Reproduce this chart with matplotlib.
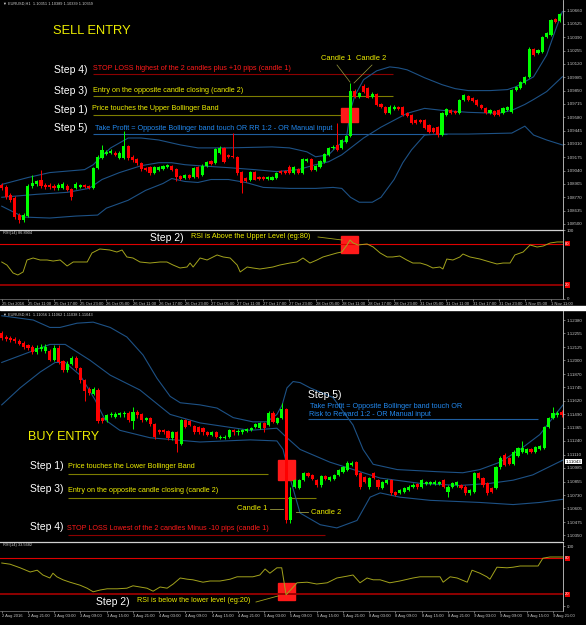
import matplotlib.pyplot as plt
from matplotlib.patches import Rectangle
from matplotlib.lines import Line2D
import matplotlib.transforms as mtransforms

plt.rcParams['font.family'] = ['Liberation Sans', 'DejaVu Sans']

W, H = 586, 625

# ---------------- SELL chart (EURUSD H1, prices in pips above 1.08500) ----------------
sell_base = 1.08500
sell_open = [39, 37, 29, 26, 9, 4, 8, 38, 40, 44, 39, 39, 38, 36, 36, 38, 35, 36, 37, 39,
             38, 36, 57, 67, 71, 72, 72, 67, 67, 79, 68, 66, 62, 57, 58, 52, 55, 56, 58, 59,
             56, 49, 47, 50, 48, 58, 50, 59, 64, 62, 72, 77, 70, 69, 68, 53, 47, 44, 53, 48,
             48, 46, 45, 47, 54, 54, 58, 52, 56, 52, 64, 66, 55, 58, 63, 70, 77, 80, 77, 83,
             89, 135, 129, 140, 138, 129, 132, 121, 118, 112, 116, 118, 118, 112, 110, 105, 105, 105, 100, 97,
             98, 90, 110, 115, 114, 112, 125, 130, 128, 125, 120, 117, 112, 114, 115, 112, 115, 113, 136, 138,
             143, 149, 177, 173, 174, 189, 191, 207, 205]
sell_high = [41, 39, 31, 28, 11, 11, 40, 50, 45, 55, 41, 41, 40, 41, 42, 40, 36, 42, 40, 40,
             39, 58, 70, 80, 75, 76, 74, 74, 94, 80, 70, 67, 63, 58, 59, 59, 59, 60, 61, 60,
             57, 50, 51, 51, 58, 59, 61, 64, 65, 77, 79, 78, 71, 92, 69, 54, 48, 54, 54, 49,
             49, 49, 49, 53, 55, 55, 60, 59, 57, 67, 67, 67, 60, 65, 72, 78, 80, 102, 86, 90,
             143, 137, 134, 142, 139, 134, 133, 122, 119, 120, 120, 119, 119, 113, 111, 106, 106, 106, 101, 98,
             99, 113, 117, 116, 115, 126, 132, 131, 129, 126, 121, 118, 116, 115, 116, 118, 119, 137, 140, 145,
             150, 179, 178, 177, 190, 194, 207, 208, 214]
sell_low = [34, 25, 22, 5, 1, 2, 7, 36, 38, 36, 35, 35, 34, 34, 35, 33, 24, 35, 36, 36,
            35, 35, 56, 66, 70, 71, 69, 66, 66, 65, 63, 60, 54, 54, 50, 51, 54, 55, 57, 54,
            43, 45, 46, 46, 47, 47, 49, 58, 60, 61, 71, 62, 67, 67, 50, 31, 42, 43, 44, 45,
            45, 45, 44, 46, 51, 51, 51, 51, 51, 51, 63, 54, 54, 57, 62, 69, 76, 74, 76, 82,
            88, 128, 128, 133, 127, 128, 119, 117, 111, 111, 115, 115, 109, 108, 101, 101, 102, 96, 92, 92,
            88, 89, 109, 111, 111, 111, 124, 124, 123, 119, 116, 111, 111, 109, 109, 111, 114, 112, 135, 137,
            142, 148, 170, 172, 173, 188, 190, 203, 204]
sell_close = [36, 27, 24, 7, 4, 9, 38, 41, 43, 38, 37, 37, 36, 39, 40, 34, 27, 40, 39, 37,
              36, 57, 68, 75, 73, 74, 70, 72, 79, 67, 65, 62, 56, 55, 52, 58, 58, 59, 60, 55,
              48, 46, 50, 47, 57, 48, 59, 63, 61, 76, 77, 63, 68, 68, 52, 41, 43, 53, 45, 46,
              46, 48, 48, 52, 52, 52, 52, 58, 52, 66, 66, 55, 59, 64, 71, 77, 78, 75, 85, 89,
              135, 129, 133, 134, 128, 132, 120, 118, 112, 118, 118, 116, 110, 109, 102, 102, 103, 97, 93, 93,
              90, 112, 116, 112, 112, 125, 131, 125, 124, 120, 117, 112, 115, 110, 110, 117, 118, 136, 139, 144,
              149, 177, 171, 176, 189, 193, 206, 204, 213]

# Bollinger bands read at sample bars (bar index, pips)
sell_up_x = [0, 6, 11, 19, 21, 23, 25, 29, 32, 36, 41, 45, 52, 62, 66, 70, 72, 75, 77, 79,
             80, 81, 83, 86, 89, 91, 93, 95, 97, 101, 104, 107, 112, 116, 118, 120, 122, 125, 127, 128.6]
sell_up = [40, 47, 52, 55, 60, 69, 77, 87, 87, 85, 80, 77, 77, 78, 77, 73, 68, 70, 79, 85,
           115, 130, 146, 155, 159, 158, 156, 152, 148, 141, 137, 135, 135, 136, 139, 144, 149, 171, 196, 215]
sell_mid_x = [0, 8, 15, 20, 23, 27, 32, 36, 39, 42, 45, 52, 58, 63, 68, 72, 75, 78, 83, 87,
              90, 93, 97, 101, 107, 114, 117, 120, 122, 125, 128.6]
sell_mid = [27, 30, 32, 36, 45, 52, 59, 62, 62, 60, 59, 57, 55, 53, 55, 60, 63, 70, 87, 98,
            105, 112, 117, 115, 113, 112, 115, 121, 126, 134, 149]
sell_lo_x = [0, 5, 11, 17, 22, 24, 29, 33, 37, 39, 42, 45, 48, 52, 56, 60, 66, 72, 76, 78,
             80, 82, 85, 87, 90, 92, 94, 97, 100, 107, 117, 120, 122, 125, 128.6]
sell_lo = [18, 7, 6, 8, 9, 16, 24, 34, 41, 46, 43, 42, 45, 45, 42, 37, 36, 36, 37, 36,
           27, 22, 22, 27, 45, 62, 75, 90, 91, 91, 92, 99, 90, 85, 80]

# RSI(14) read at sample bars
sell_rsi_x = [0, 1.2, 2.6, 3.7, 4.9, 5.8, 7.2, 8.8, 10.4, 11.8, 13.4, 15, 16.4, 19.6, 20.7, 22.5, 24.8, 26.4, 27.6, 28.7,
              30.1, 31.7, 34, 36.3, 37.9, 39.3, 40.9, 42.5, 43.2, 43.9, 45.5, 47.1, 49.4, 50.8, 52.4, 54, 54.7, 56.3, 57.6, 59.2,
              60.8, 62.2, 63.8, 66.1, 67.7, 69.1, 70.7, 72.3, 73.7, 75.3, 76.9, 78, 79.2, 79.9, 80.6, 81.7, 83.8, 85.2, 86.8, 88.4,
              89.7, 91.3, 92.9, 94.3, 96, 97.5, 98.9, 100.5, 101.2, 102.1, 103.5, 105.1, 105.8, 107.4, 109.7, 112, 113.6, 115, 116.6, 117.7,
              119.6, 121.2, 122.8, 124.2, 125.8, 127.4, 128.7]
sell_rsi = [53.5, 49, 37.5, 34.6, 39, 56.4, 59.3, 56.4, 56.4, 54.9, 56.4, 47.7, 53.5, 53.5, 66.6, 72.4, 70.9, 68, 70.9, 60.8,
            59.3, 53.5, 52, 53.5, 53.5, 49.1, 44.8, 46.2, 52, 46.2, 59.3, 56.4, 63.7, 60.8, 59.3, 49.1, 39, 46.2, 44.8, 43.3,
            44.8, 46.2, 49.1, 52, 53.5, 59.3, 52, 56.4, 60.8, 63.7, 66.6, 68, 78.2, 85.5, 81.1, 78.2, 79.7, 75.3, 66.6, 60.8,
            60.8, 62.2, 56.4, 52, 52, 49.1, 44.8, 46.2, 43.3, 57.8, 56.4, 60.8, 65.1, 60.8, 57.8, 53.5, 50.6, 52, 52, 63.7,
            68, 78.2, 75.3, 76.7, 81.1, 82.6, 82.6]

sell_ticks = [1.10660, 1.10525, 1.10390, 1.10255, 1.10120, 1.09985, 1.09850, 1.09715, 1.09580,
              1.09445, 1.09310, 1.09175, 1.09040, 1.08905, 1.08770, 1.08635, 1.08500]
sell_times = ['25 Oct 2016', '25 Oct 11:00', '25 Oct 17:00', '25 Oct 23:00', '26 Oct 05:00', '26 Oct 11:00',
              '26 Oct 17:00', '26 Oct 23:00', '27 Oct 05:00', '27 Oct 11:00', '27 Oct 17:00', '27 Oct 23:00',
              '28 Oct 05:00', '28 Oct 11:00', '28 Oct 17:00', '28 Oct 23:00', '31 Oct 05:00', '31 Oct 11:00',
              '31 Oct 17:00', '31 Oct 23:00', '1 Nov 05:00', '1 Nov 11:00']

# ---------------- BUY chart (EURUSD H1, prices in pips above 1.10350) ----------------
buy_base = 1.10350
buy_open = [191, 187, 186, 185, 183, 181, 179, 178, 173, 176, 174, 174, 165, 177, 164, 156, 162, 167, 158, 146,
            138, 133, 137, 111, 109, 113, 112, 113, 114, 115, 108, 116, 114, 109, 111, 105, 99, 99, 98, 92,
            97, 86, 109, 108, 103, 102, 101, 97, 95, 97, 92, 92, 93, 99, 97, 97, 98, 99, 102, 101,
            106, 104, 115, 106, 111, 119, 14, 46, 45, 52, 59, 57, 52, 47, 56, 52, 53, 57, 60, 62,
            66, 69, 59, 55, 46, 59, 52, 45, 49, 52, 41, 40, 41, 43, 46, 48, 46, 48, 48, 48,
            48, 52, 41, 46, 47, 47, 46, 40, 41, 59, 54, 49, 45, 45, 64, 76, 73, 67, 75, 79,
            78, 81, 79, 81, 82, 102, 111, 113, 116]
buy_high = [193, 189, 188, 187, 185, 183, 180, 179, 179, 180, 180, 176, 179, 179, 165, 164, 169, 169, 159, 147,
            140, 140, 139, 112, 114, 116, 116, 116, 117, 117, 121, 118, 115, 112, 112, 106, 100, 100, 99, 98,
            98, 110, 110, 109, 104, 103, 102, 98, 98, 98, 95, 95, 100, 100, 100, 100, 101, 102, 106, 107,
            107, 117, 117, 112, 125, 120, 46, 53, 53, 60, 60, 58, 53, 57, 57, 56, 58, 63, 65, 70,
            70, 70, 60, 56, 55, 60, 53, 51, 53, 53, 42, 44, 46, 47, 49, 49, 53, 51, 51, 52,
            51, 53, 47, 50, 51, 48, 47, 44, 60, 60, 55, 50, 46, 65, 75, 78, 74, 80, 83, 89,
            82, 82, 84, 85, 103, 112, 121, 117, 118]
buy_low = [184, 183, 182, 181, 179, 176, 175, 171, 171, 174, 172, 164, 164, 162, 154, 154, 161, 156, 144, 127,
           132, 132, 106, 106, 107, 112, 111, 112, 112, 107, 100, 111, 107, 108, 103, 91, 96, 96, 90, 90,
           79, 85, 101, 103, 96, 96, 95, 94, 94, 92, 91, 91, 92, 95, 95, 96, 97, 98, 101, 100,
           97, 103, 106, 105, 110, 12, 12, 45, 44, 51, 55, 52, 46, 46, 52, 51, 52, 56, 59, 61,
           65, 56, 44, 49, 44, 53, 44, 44, 48, 38, 37, 39, 40, 42, 45, 44, 45, 47, 47, 47,
           47, 45, 36, 45, 46, 44, 38, 38, 40, 53, 46, 38, 40, 44, 63, 65, 66, 66, 74, 78,
           77, 78, 78, 80, 81, 101, 110, 112, 112]
buy_close = [186, 185, 184, 183, 180, 178, 177, 173, 177, 178, 178, 165, 177, 163, 156, 162, 167, 158, 146, 136,
             134, 138, 108, 108, 113, 114, 114, 115, 115, 109, 116, 113, 109, 111, 105, 93, 97, 97, 92, 97,
             86, 109, 102, 104, 97, 97, 97, 95, 97, 93, 93, 93, 99, 97, 98, 99, 100, 101, 105, 106,
             101, 115, 107, 111, 119, 14, 36, 52, 52, 59, 56, 53, 47, 56, 53, 55, 57, 62, 64, 68,
             68, 57, 46, 50, 54, 54, 46, 50, 52, 40, 38, 43, 45, 46, 47, 46, 52, 50, 50, 50,
             50, 46, 46, 49, 50, 45, 40, 43, 59, 54, 47, 40, 41, 64, 73, 66, 67, 79, 82, 82,
             81, 79, 83, 84, 102, 111, 115, 115, 113]

buy_up_x = [0, 7.2, 11, 13.3, 17.2, 20.9, 24.8, 28.6, 32.3, 35.5, 38.5, 40.8, 45.3, 49.2, 52.9, 57.4, 60.6, 62.9, 64.1, 65.2,
            66.6, 68.2, 70.5, 75.7, 80.3, 82.6, 84.9, 90.4, 99.5, 105.4, 109.3, 113.9, 118.5, 123, 126, 128.3]
buy_up = [207, 203, 196, 196, 200, 201, 196, 187, 170, 148, 131, 125, 123, 120, 111, 107, 107, 114, 123, 139,
          145, 144, 139, 130, 104, 81, 67, 62, 60, 59, 62, 69, 81, 95, 111, 123]
buy_mid_x = [0, 6.5, 11, 14.5, 20.2, 24.8, 31.6, 38.5, 45.3, 56.8, 62.9, 65.2, 68.2, 75, 81.9, 86.5, 95.6, 104.7, 111.6, 116.9,
             121.4, 128.3]
buy_mid = [163, 173, 180, 180, 165, 151, 137, 114, 106, 99, 101, 92, 81, 69, 60, 54, 49, 47, 49, 52,
           57, 71]
buy_lo_x = [0, 4.2, 8.8, 12.2, 14.5, 17.9, 21.3, 23.6, 27, 33.9, 45.3, 56.8, 62.9, 64.3, 65.9, 68.2, 72.8, 76.6, 81.2, 84.2,
            86.5, 91, 97.9, 109.3, 116.9, 123, 128.3]
buy_lo = [123, 139, 154, 163, 163, 151, 128, 109, 99, 92, 88, 90, 89, 81, 54, 21, 10, 7, 14, 36,
          40, 36, 33, 31, 29, 31, 34]

buy_rsi_x = [0, 1.9, 4.2, 6.5, 8.1, 9.4, 11, 11.7, 12.6, 14, 15.6, 17.9, 19.5, 20.9, 22.5, 24.1, 26.4, 28.6, 30, 31.6,
             33.2, 34.6, 36.2, 37.8, 39.2, 40.8, 42.4, 43.7, 46, 47.6, 49.9, 52.2, 53.8, 55.2, 57.4, 59, 60.2, 61.3, 62.9, 64,
             65, 66.4, 67.5, 69.8, 72, 74.4, 76.6, 78.9, 80.3, 81.9, 83.5, 84.9, 86.5, 88.7, 91, 94, 95.6, 97.9, 100.2, 100.9,
             102.5, 104.1, 106.4, 107.5, 109.3, 110.9, 111.6, 113.2, 115.5, 116.9, 118.5, 120.7, 122.6, 123.7, 125.3, 128.3]
buy_rsi = [72, 70, 64, 57, 60, 52, 47, 55, 49, 44, 40, 35, 30, 24, 27, 29, 29, 30, 34, 32,
           30, 25, 32, 30, 37, 47, 45, 44, 40, 42, 42, 45, 49, 49, 49, 52, 62, 55, 64, 64,
           19, 30, 39, 40, 37, 39, 47, 50, 52, 39, 47, 44, 44, 39, 42, 47, 49, 49, 49, 40,
           49, 47, 40, 60, 55, 49, 45, 65, 64, 65, 67, 67, 67, 80, 82, 82]

buy_ticks = [1.12380, 1.12255, 1.12125, 1.12000, 1.11870, 1.11745, 1.11620, 1.11490, 1.11365,
             1.11240, 1.11110, 1.10985, 1.10855, 1.10730, 1.10605, 1.10475, 1.10350]
buy_times = ['2 Aug 2016', '2 Aug 21:00', '3 Aug 03:00', '3 Aug 09:00', '3 Aug 15:00', '3 Aug 21:00',
             '4 Aug 03:00', '4 Aug 09:00', '4 Aug 15:00', '4 Aug 21:00', '5 Aug 03:00', '5 Aug 09:00',
             '5 Aug 15:00', '5 Aug 21:00', '8 Aug 03:00', '8 Aug 09:00', '8 Aug 15:00', '8 Aug 21:00',
             '9 Aug 03:00', '9 Aug 09:00', '9 Aug 15:00', '9 Aug 21:00']

BULL = '#00ff00'
BEAR = '#ff0000'
BAND = '#1d5185'
RSI_COL = '#a3a31c'
YEL = '#eeee00'
OLIVE = '#7d7d00'
DRED = '#8c0000'
TPBLUE = '#1f5d9e'
TXTBLUE = '#2288ee'
AXCOL = '#c8c8c8'


def px(lst, base):
    return [base + v / 10000 for v in lst]


fig = plt.figure(figsize=(W / 100, H / 100), dpi=100, facecolor='black')


def add_ax(x0, y0, x1, y1):
    ax = fig.add_axes([x0 / W, 1 - y1 / H, (x1 - x0) / W, (y1 - y0) / H])
    ax.set_facecolor('black')
    for s in ax.spines.values():
        s.set_visible(False)
    ax.spines['right'].set_visible(True)
    ax.spines['right'].set_color(AXCOL)
    ax.spines['right'].set_linewidth(0.6)
    return ax


def ftext(x, y, s, color='white', size=7.5, **kw):
    fig.text(x / W, 1 - y / H, s, color=color, fontsize=size, ha='left', va='center', **kw)


def fline(x0, y0, x1, y1, color, lw=0.7):
    fig.add_artist(Line2D([x0 / W, x1 / W], [1 - y0 / H, 1 - y1 / H], color=color, lw=lw))


def candles(ax, o, h, l, c):
    idx = list(range(len(o)))
    cols = [BULL if ci >= oi else BEAR for oi, ci in zip(o, c)]
    ax.vlines(idx, l, h, colors=cols, linewidth=0.7, zorder=3)
    bottoms = [min(a, b) for a, b in zip(o, c)]
    heights = [max(abs(b - a), 0.00008) for a, b in zip(o, c)]
    ax.bar(idx, heights, bottom=bottoms, width=0.72, color=cols, linewidth=0, zorder=4)


def price_axis(ax, ticks):
    ax.yaxis.tick_right()
    ax.set_yticks(ticks)
    ax.set_yticklabels(['%.5f' % t for t in ticks])
    ax.tick_params(axis='y', labelsize=3.2, colors=AXCOL, length=1.5, width=0.4, pad=1.2)
    ax.set_xticks([])


def rsi_axis(ax, times, xmax, ylo, yhi):
    ax.set_xlim(-0.4, xmax)
    ax.set_ylim(ylo, yhi)
    ax.axhline(80, color='#dd0000', lw=0.8)
    ax.axhline(20, color='#990000', lw=1.3)
    ax.spines['top'].set_visible(True)
    ax.spines['top'].set_color('#d0d0d0')
    ax.spines['top'].set_linewidth(0.9)
    ax.spines['bottom'].set_visible(True)
    ax.spines['bottom'].set_color('#808080')
    ax.spines['bottom'].set_linewidth(0.5)
    ax.yaxis.tick_right()
    ax.set_yticks([0, 100])
    ax.set_yticklabels(['0', '100'])
    ax.tick_params(axis='y', labelsize=3.2, colors=AXCOL, length=1.5, width=0.4, pad=1.2)
    ax.set_xticks(range(0, 6 * len(times), 6))
    ax.set_xticklabels(times)
    ax.tick_params(axis='x', labelsize=3, colors=AXCOL, length=1.5, width=0.4, pad=0.8)
    for lab in ax.get_xticklabels():
        lab.set_ha('left')
    tr = mtransforms.blended_transform_factory(ax.transAxes, ax.transData)
    for lvl in (80, 20):
        ax.text(1.004, lvl, str(lvl), transform=tr, fontsize=3, color='white', va='center', ha='left',
                bbox=dict(boxstyle='square,pad=0.15', fc='#ee0000', ec='none'))


# ================= SELL window =================
ax1 = add_ax(0, 0, 563, 229)
candles(ax1, px(sell_open, sell_base), px(sell_high, sell_base), px(sell_low, sell_base), px(sell_close, sell_base))
ax1.plot(sell_up_x, px(sell_up, sell_base), color=BAND, lw=0.8, zorder=2)
ax1.plot(sell_mid_x, px(sell_mid, sell_base), color=BAND, lw=0.8, zorder=2)
ax1.plot(sell_lo_x, px(sell_lo, sell_base), color=BAND, lw=0.8, zorder=2)
ax1.set_xlim(-0.4, 128.75)
ax1.set_ylim(1.08449, 1.10767)
price_axis(ax1, sell_ticks)

# annotation levels
ax1.hlines(1.10018, 20.9, 89.7, color=DRED, lw=0.8, zorder=1)
ax1.hlines(1.09795, 20.9, 89.7, color=OLIVE, lw=0.8, zorder=1)
ax1.hlines(1.09603, 20.9, 77.8, color=OLIVE, lw=0.8, zorder=1)
ax1.hlines(1.09411, 20.9, 102.1, color=TPBLUE, lw=0.8, zorder=1)
ax1.add_patch(Rectangle((77.8, 1.09532), 3.9, 0.00143, color='#ff1a1a', zorder=2.5))

ax2 = add_ax(0, 230, 563, 299)
ax2.plot(sell_rsi_x, sell_rsi, color=RSI_COL, lw=0.7, zorder=3)
ax2.add_patch(Rectangle((77.8, 66.6), 3.9, 24.7, color='#ff1a1a', zorder=2))
rsi_axis(ax2, sell_times, 128.75, -0.3, 100)

ftext(3, 4, '\u25bc EURUSD,H1  1.10351 1.10389 1.10339 1.10359', '#cfcfcf', 2.8)
ftext(53, 31, 'SELL ENTRY', YEL, 9.3)
ftext(54, 70, 'Step 4)')
ftext(93, 69, 'STOP LOSS highest of the 2 candles plus +10 pips (candle 1)', '#ff1a1a', 5.2)
ftext(54, 91, 'Step 3)')
ftext(93, 90, 'Entry on the opposite candle closing (candle 2)', YEL, 5.2)
ftext(54, 110, 'Step 1)')
ftext(92, 109, 'Price touches the Upper Bollinger Band', YEL, 5.2)
ftext(54, 128, 'Step 5)')
ftext(95, 128, 'Take Profit = Opposite Bollinger band touch OR RR 1:2 - OR Manual input', TXTBLUE, 5.2)
ftext(321, 58, 'Candle 1', YEL, 5.4)
ftext(356, 58, 'Candle 2', YEL, 5.4)
fline(337, 65, 350, 82, '#9a9a40', 0.5)
fline(372, 65, 354, 83, '#9a9a40', 0.5)
ftext(3, 233, 'RSI(14) 86.8904', '#cfcfcf', 2.8)
ftext(150, 238, 'Step 2)')
ftext(191, 237, 'RSI is Above the Upper Level (eg:80)', YEL, 5.2)
fline(318, 237, 342, 240, RSI_COL, 0.6)

# white gap between the two windows
fig.patches.append(Rectangle((0, 1 - 310 / H), 1, 4 / H, transform=fig.transFigure, color='white'))

# ================= BUY window =================
ax3 = add_ax(0, 311, 563, 540)
candles(ax3, px(buy_open, buy_base), px(buy_high, buy_base), px(buy_low, buy_base), px(buy_close, buy_base))
ax3.plot(buy_up_x, px(buy_up, buy_base), color=BAND, lw=0.8, zorder=2)
ax3.plot(buy_mid_x, px(buy_mid, buy_base), color=BAND, lw=0.8, zorder=2)
ax3.plot(buy_lo_x, px(buy_lo, buy_base), color=BAND, lw=0.8, zorder=2)
ax3.set_xlim(-0.4, 128.3)
ax3.set_ylim(1.10306, 1.12465)
price_axis(ax3, buy_ticks)
tr3 = mtransforms.blended_transform_factory(ax3.transAxes, ax3.transData)
ax3.text(1.004, 1.11043, '1.11043', transform=tr3, fontsize=3.2, color='black', va='center', ha='left',
         bbox=dict(boxstyle='square,pad=0.15', fc='white', ec='none'))

ax3.hlines(1.10928, 15.2, 60.9, color=OLIVE, lw=0.8, zorder=1)
ax3.hlines(1.10702, 15.2, 71.8, color=OLIVE, lw=0.8, zorder=1)
ax3.hlines(1.10353, 15.2, 73.9, color=DRED, lw=0.8, zorder=1)
ax3.hlines(1.11447, 70.0, 122.6, color=TPBLUE, lw=0.8, zorder=1)
ax3.add_patch(Rectangle((63.2, 1.10872), 3.9, 0.00188, color='#ff1a1a', zorder=2.5))

ax4 = add_ax(0, 542, 563, 611)
ax4.plot(buy_rsi_x, buy_rsi, color=RSI_COL, lw=0.7, zorder=3)
ax4.add_patch(Rectangle((63.2, 10.3), 3.9, 28.4, color='#ff1a1a', zorder=2))
rsi_axis(ax4, buy_times, 128.3, -8, 107)

ftext(3, 315, '\u25bc EURUSD,H1  1.11056 1.11062 1.11038 1.11043', '#cfcfcf', 2.8)
ftext(28, 437, 'BUY ENTRY', YEL, 9)
ftext(30, 466, 'Step 1)')
ftext(68, 466, 'Price touches the Lower Bollinger Band', YEL, 5.2)
ftext(30, 489, 'Step 3)')
ftext(68, 490, 'Entry on the opposite candle closing (candle 2)', YEL, 5.2)
ftext(237, 508, 'Candle 1', YEL, 5.4)
fline(270, 509, 283, 509, '#9a9a40', 0.6)
ftext(311, 512, 'Candle 2', YEL, 5.4)
fline(296, 512, 308, 512, '#9a9a40', 0.6)
ftext(30, 527, 'Step 4)')
ftext(67, 528, 'STOP LOSS Lowest of the 2 candles Minus -10 pips (candle 1)', '#ff1a1a', 5.2)
ftext(308, 395, 'Step 5)')
ftext(310, 406, 'Take Profit = Opposite Bollinger band touch OR', TXTBLUE, 5.2)
ftext(309, 414, 'Risk to Reward 1:2 - OR Manual input', TXTBLUE, 5.2)
ftext(3, 545, 'RSI(14) 33.5682', '#cfcfcf', 2.8)
ftext(96, 602, 'Step 2)')
ftext(137, 601, 'RSI is below the lower level (eg:20)', YEL, 5.2)
fline(256, 602, 278, 596, RSI_COL, 0.6)

fig.savefig('out.png', dpi=100, facecolor='black')
